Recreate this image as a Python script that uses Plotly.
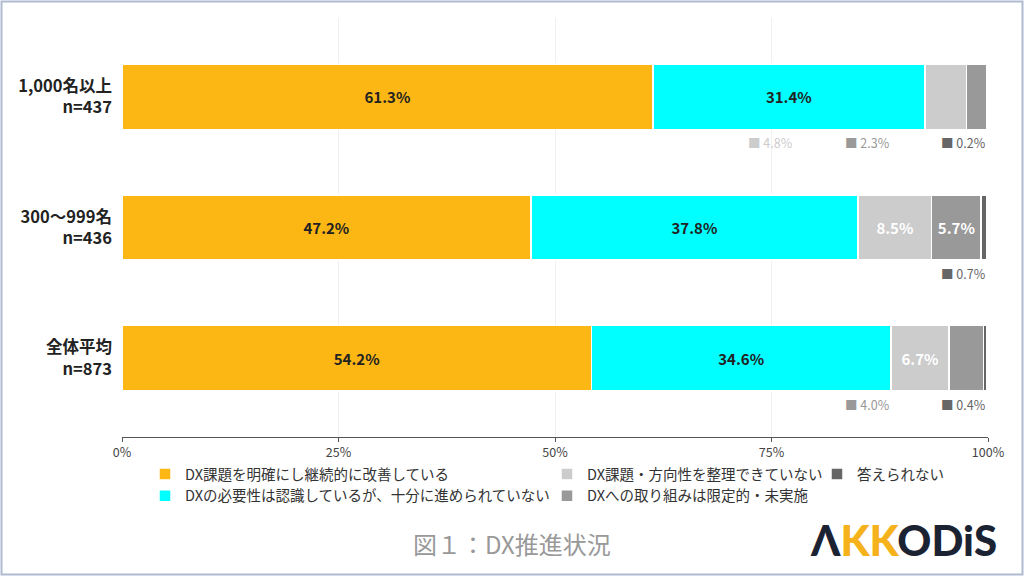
import plotly.graph_objects as go

# data
categories = ["1,000名以上<br>n=437", "300～999名<br>n=436", "全体平均<br>n=873"]
series_names = [
    "DX課題を明確にし継続的に改善している",
    "DXの必要性は認識しているが、十分に進められていない",
    "DX課題・方向性を整理できていない",
    "DXへの取り組みは限定的・未実施",
    "答えられない",
]
v_improving = [61.3, 47.2, 54.2]
v_recognized = [31.4, 37.8, 34.6]
v_unsorted = [4.8, 8.5, 6.7]
v_limited = [2.3, 5.7, 4.0]
v_unknown = [0.2, 0.7, 0.4]
x_ticks = [0, 25, 50, 75, 100]
x_ticktext = ["0%", "25%", "50%", "75%", "100%"]

values = [v_improving, v_recognized, v_unsorted, v_limited, v_unknown]
colors = ["#FDB714", "#00FFFF", "#CCCCCC", "#999999", "#666666"]
text_colors = ["#222222", "#222222", "#FFFFFF", "#FFFFFF", "#FFFFFF"]
legend_ids = ["legend", "legend", "legend2", "legend2", "legend3"]

FONT = "Noto Sans CJK JP"
W, H = 1024, 576
L, R, T, B = 122, 36, 18, 139
pw, ph = W - L - R, H - T - B


def px_x(px):
    return (px - L) / pw


def px_y(py):
    return (H - B - py) / ph


fig = go.Figure()
for name, vals, col, tcol, lg in zip(series_names, values, colors, text_colors, legend_ids):
    fig.add_trace(go.Bar(
        y=categories, x=vals, name=name, orientation="h",
        marker=dict(color=col, line=dict(color="white", width=1.5)),
        text=[f"<b>{v:.1f}%</b>" if v >= 5 else "" for v in vals],
        textposition="inside", insidetextanchor="middle", textangle=0,
        textfont=dict(family=FONT, size=15, color=tcol),
        hoverinfo="skip", legend=lg,
    ))

# small values shown under the bars, fixed slot per series
slot_x = {2: 77.7, 3: 88.9, 4: 100}
for s, xpos in slot_x.items():
    for i, v in enumerate(values[s]):
        if v < 5:
            fig.add_annotation(
                x=xpos, y=categories[i], xref="x", yref="y",
                xanchor="right", yanchor="middle", yshift=-46, showarrow=False,
                text=f"<span style='color:{colors[s]}'>■</span> {v:.1f}%",
                font=dict(family=FONT, size=12.5, color=colors[s]),
            )

fig.add_annotation(
    x=px_x(512), y=px_y(543), xref="paper", yref="paper", showarrow=False,
    xanchor="center", yanchor="middle",
    text="図１：DX推進状況", font=dict(family=FONT, size=24, color="#999999"),
)
fig.add_annotation(
    x=px_x(903), y=px_y(540), xref="paper", yref="paper", showarrow=False,
    xanchor="center", yanchor="middle",
    text=("<span style='color:#1B2333'>Λ</span>"
          "<span style='color:#F5B21B'>KK</span>"
          "<span style='color:#1B2333'>ODiS</span>"),
    font=dict(family="Lato", size=42, weight=900, color="#1B2333"),
)

fig.add_shape(
    type="rect", xref="paper", yref="paper",
    x0=px_x(1.5), x1=px_x(1022.5), y0=px_y(574.5), y1=px_y(1.5),
    line=dict(color="#AEBBD0", width=2), layer="below",
)

legend_style = dict(
    orientation="v", xanchor="left", yanchor="top", bgcolor="rgba(0,0,0,0)",
    font=dict(family=FONT, size=14.5, color="#333333"), tracegroupgap=0,
    itemwidth=30, traceorder="normal",
)
fig.update_layout(
    width=W, height=H, margin=dict(l=L, r=R, t=T, b=B, autoexpand=False),
    barmode="stack", bargap=0.5,
    paper_bgcolor="white", plot_bgcolor="white",
    font=dict(family=FONT),
    showlegend=True,
    legend=dict(x=px_x(145), y=px_y(458), **legend_style),
    legend2=dict(x=px_x(547), y=px_y(458), **legend_style),
    legend3=dict(x=px_x(817), y=px_y(458), **legend_style),
    xaxis=dict(
        range=[0, 100], tickvals=x_ticks, ticktext=x_ticktext,
        showgrid=True, gridcolor="#F0F0F0", gridwidth=1, zeroline=False,
        showline=True, linecolor="#555555", linewidth=1,
        ticks="outside", ticklen=4, tickcolor="#555555",
        tickfont=dict(family=FONT, size=12.5, color="#444444"),
    ),
    yaxis=dict(
        categoryorder="array", categoryarray=categories,
        range=[2.6, -0.6], showgrid=False, zeroline=False, showline=False,
        ticks="", ticklabelstandoff=9,
        tickfont=dict(family=FONT, size=16.5, color="#222222", weight="bold"),
    ),
)

# the page has a default 8px body margin; drop it so the figure fills the window
fig.write_html("out.html", config={"displayModeBar": False},
               post_script="document.body.style.margin='0';")
